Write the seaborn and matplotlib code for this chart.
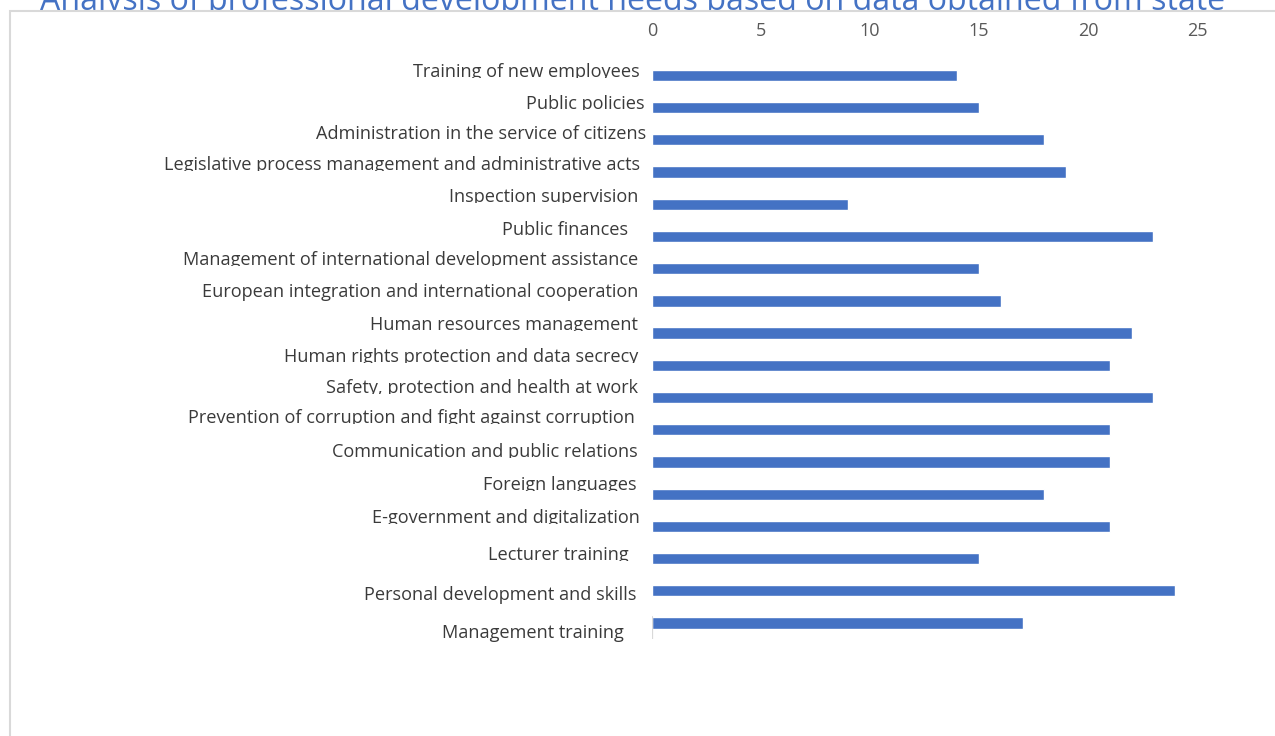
import matplotlib
matplotlib.use("Agg")
import matplotlib.pyplot as plt
import seaborn as sns
import pandas as pd
from matplotlib.patches import Rectangle
from matplotlib.transforms import ScaledTranslation, blended_transform_factory

# ---- data -----------------------------------------------------------------
title = "Analysis of professional development needs based on data obtained from state"
topics = [
    "Training of new employees",
    "Public policies",
    "Administration in the service of citizens",
    "Legislative process management and administrative acts",
    "Inspection supervision",
    "Public finances ",
    "Management of international development assistance",
    "European integration and international cooperation",
    "Human resources management",
    "Human rights protection and data secrecy",
    "Safety, protection and health at work",
    "Prevention of corruption and fight against corruption",
    "Communication and public relations",
    "Foreign languages",
    "E-government and digitalization",
    "Lecturer training ",
    "Personal development and skills",
    "Management training",
]
needs = [14, 15, 18, 19, 9, 23, 15, 16, 22, 21, 23, 21, 21, 18, 21, 15, 24, 17]
x_ticks = [0, 5, 10, 15, 20, 25]

# ---- label placement (pixel nudges relative to each bar) -------------------
label_dx = [-12, -7, -6, -12, -14, -19, -14, -14, -14, -14, -14, -17, -14, -15, -12, -19, -15, -28]
label_dy = [1.7, 1.1, -1.2, -1.7, -2.2, -1.2, -3.4, -3.9, -2.9, -3.4, -4.7, -6.3, -5.1, -4.1, -3.0, 1.5, 9.2, 14.7]
label_cut = [True, True, True, True, True, True, True, False, True, True, True, True, True, True, True, True, False, False]

BAR = "#4472C4"
W, H, DPI = 1275, 736, 100

sns.set_theme(style="white")
plt.rcParams["font.family"] = ["Open Sans", "DejaVu Sans"]

fig = plt.figure(figsize=(W / DPI, H / DPI), dpi=DPI)
fig.patch.set_facecolor("white")

top_px, bot_px = 59.3, 639.1
ax = fig.add_axes([652 / W, 1 - bot_px / H, 545 / W, (bot_px - top_px) / H])
ax.patch.set_alpha(0)

df = pd.DataFrame({"topic": topics, "count": needs})
sns.barplot(data=df, x="count", y="topic", orient="h", color=BAR,
            saturation=1, width=0.35, ax=ax)

ax.set_xlim(0, 25)
ax.set_ylim(len(topics) - 0.5, -0.5)
ax.set_xlabel("")
ax.set_ylabel("")
ax.xaxis.tick_top()
ax.set_xticks(x_ticks)
ax.set_xticklabels([str(v) for v in x_ticks])
ax.tick_params(axis="x", length=0, pad=14, labelsize=13, labelcolor="#595959")
ax.tick_params(axis="y", length=0, labelleft=False)
for s in ax.spines.values():
    s.set_visible(False)
ax.grid(False)

# short stub of the category axis at the bottom
ax.axvline(0, ymin=0, ymax=22.5 / (bot_px - top_px), color="#d9d9d9", lw=1.6)

# category labels
band_tr = blended_transform_factory(fig.transFigure, ax.transData)
for i, (name, dx, dy, cut) in enumerate(zip(topics, label_dx, label_dy, label_cut)):
    tr = ax.transData + ScaledTranslation(dx / DPI, -dy / DPI, fig.dpi_scale_trans)
    t = ax.text(0, i, name, transform=tr, ha="right", va="baseline",
                fontsize=13.1, color="#3a3a3a", clip_on=False)
    if cut:
        box = Rectangle((0, i), 1, -1,
                        transform=band_tr + ScaledTranslation(0, -(dy + 0.8) / DPI,
                                                              fig.dpi_scale_trans))
        t.set_clip_path(box)
        t.set_clip_on(True)

# chart title partly hidden behind the chart frame
fig.text(40 / W, 1 - 10 / H, title, ha="left", va="baseline",
         fontsize=23.1, color="#4472C4", zorder=-2)
fig.add_artist(Rectangle((10 / W, -0.1), 2, (1 - 11 / H) + 0.1,
                         transform=fig.transFigure, facecolor="white",
                         edgecolor="#d9d9d9", lw=1.5, zorder=-1))

fig.savefig("out.png", dpi=DPI, facecolor="white")
